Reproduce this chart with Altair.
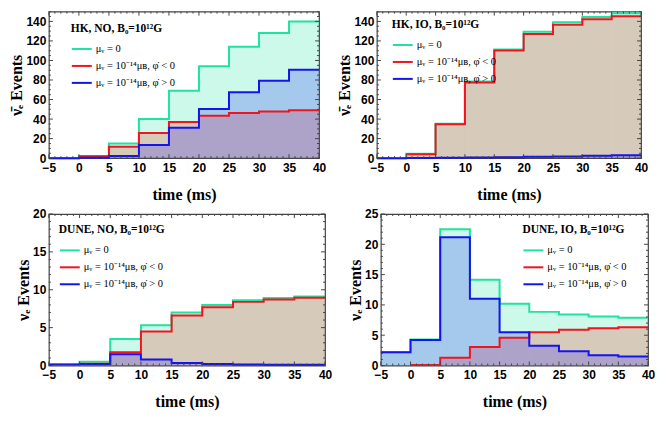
import altair as alt
import pandas as pd

# ---------------- data ----------------
T_START = [-5, 0, 5, 10, 15, 20, 25, 30, 35]
T_END = 40
X_MAJOR = [-5, 0, 5, 10, 15, 20, 25, 30, 35, 40]
X_MINOR = [v for v in range(-5, 41) if v % 5 != 0]

LABELS = ["μᵥ = 0", "μᵥ = 10⁻¹⁴μʙ, φ̇ < 0", "μᵥ = 10⁻¹⁴μʙ, φ̇ > 0"]
LINE_COLORS = ["#20e3a0", "#f0141e", "#1414f0"]
FILL_COLORS = ["#00e191", "#ff0e03", "#0909ff"]

HK_NO_ZERO = [0, 1.9, 15, 40, 69, 94, 114, 128, 140]
HK_NO_NEG = [None, 1.9, 11.6, 25.7, 37, 43.5, 46.3, 47.8, 49]
HK_NO_POS = [0, 0.5, 2.1, 13.5, 31.2, 50.2, 67.4, 79.3, 90.4]

HK_IO_ZERO = [0, 4.6, 35.2, 78.4, 111.2, 129.3, 139, 144.6, 148.3]
HK_IO_NEG = [None, 4.0, 34.6, 77.5, 110.3, 127.1, 136.6, 142.2, 145.2]
HK_IO_POS = [0, 0.1, 0.3, 0.6, 0.9, 1.5, 1.8, 2.5, 3.1]

DUNE_NO_ZERO = [0.12, 0.5, 3.5, 5.3, 7.0, 8.0, 8.6, 8.9, 9.1]
DUNE_NO_NEG = [None, 0.24, 1.75, 4.5, 6.6, 7.7, 8.4, 8.7, 8.96]
DUNE_NO_POS = [0.12, 0.2, 1.5, 0.8, 0.32, 0.2, 0.14, 0.1, 0.1]

DUNE_IO_ZERO = [2.2, 4.3, 22.5, 14.15, 10.2, 8.85, 8.4, 8.1, 7.9]
DUNE_IO_NEG = [None, 0.1, 1.3, 3.05, 4.6, 5.5, 5.9, 6.15, 6.3]
DUNE_IO_POS = [2.2, 4.2, 21.15, 11.0, 5.5, 3.25, 2.35, 1.7, 1.5]

HK_Y_MAJOR = [0, 20, 40, 60, 80, 100, 120, 140]
HK_Y_MINOR = [v for v in range(0, 151, 5) if v % 20 != 0]
DUNE_NO_Y_MAJOR = [0, 5, 10, 15, 20]
DUNE_NO_Y_MINOR = [v for v in range(0, 21) if v % 5 != 0]
DUNE_IO_Y_MAJOR = [0, 5, 10, 15, 20, 25]
DUNE_IO_Y_MINOR = [v for v in range(0, 26) if v % 5 != 0]

FRAME = "#444444"
MAJOR_LEN = 4
MINOR_LEN = 2


def panel(series, ltitle, ytitle, ymax, ymajor, yminor, width, height, lx, ly):
    xs = alt.Scale(domain=[-5, 40], nice=False, zero=False)
    ys = alt.Scale(domain=[0, ymax], nice=False, zero=False)
    xax = alt.Axis(values=X_MAJOR, title="time (ms)")
    yax = alt.Axis(values=ymajor, title=ytitle)
    color_scale = alt.Scale(domain=LABELS, range=LINE_COLORS)
    leg = alt.Legend(
        title=ltitle, orient="none", legendX=lx, legendY=ly,
        symbolType="stroke", symbolSize=400, symbolStrokeWidth=2,
        labelFont="Liberation Serif", labelFontSize=10.5,
        labelColor="black", labelOffset=3, labelLimit=400,
        titleFont="Liberation Serif", titleFontWeight="bold", titleFontSize=11.5,
        titleColor="black", titlePadding=4, titleLimit=400,
        rowPadding=0, padding=0,
    )

    rect_layers, line_layers = [], []
    for k, vals in enumerate(series):
        rrows, lrows = [], []
        for i, v in enumerate(vals):
            if v is None:
                continue
            t0 = T_START[i]
            t1 = T_START[i + 1] if i + 1 < len(T_START) else T_END
            rrows.append({"s": LABELS[k], "t": t0, "t2": t1, "v": v})
            lrows.append({"s": LABELS[k], "t": t0, "v": v})
        lrows.append({"s": LABELS[k], "t": T_END, "v": vals[-1]})
        rdf = pd.DataFrame(rrows)
        ldf = pd.DataFrame(lrows)
        rect_layers.append(
            alt.Chart(rdf).mark_rect(fill=FILL_COLORS[k], fillOpacity=0.2, strokeWidth=0).encode(
                x=alt.X("t:Q", scale=xs, axis=xax),
                x2="t2:Q",
                y=alt.Y("v:Q", scale=ys, axis=yax),
                y2=alt.datum(0),
            )
        )
        line_layers.append(
            alt.Chart(ldf).mark_line(interpolate="step-after", strokeWidth=2).encode(
                x=alt.X("t:Q", scale=xs, axis=xax),
                y=alt.Y("v:Q", scale=ys, axis=yax),
                color=alt.Color("s:N", scale=color_scale, legend=leg),
            )
        )

    tick_layers = []
    for vals, ln in [(ymajor, MAJOR_LEN), (yminor, MINOR_LEN)]:
        df = pd.DataFrame({"v": vals})
        for a, b in [(0, ln), (width - ln, width)]:
            tick_layers.append(
                alt.Chart(df).mark_rule(color=FRAME, strokeWidth=1).encode(
                    y=alt.Y("v:Q", scale=ys, axis=yax), x=alt.value(a), x2=alt.value(b)
                )
            )
    for vals, ln in [(X_MAJOR, MAJOR_LEN), (X_MINOR, MINOR_LEN)]:
        df = pd.DataFrame({"v": vals})
        for a, b in [(0, ln), (height - ln, height)]:
            tick_layers.append(
                alt.Chart(df).mark_rule(color=FRAME, strokeWidth=1).encode(
                    x=alt.X("v:Q", scale=xs, axis=xax), y=alt.value(a), y2=alt.value(b)
                )
            )

    return alt.layer(*rect_layers, *line_layers, *tick_layers).properties(width=width, height=height)


HK_TITLE_BAR = "ν\u0304\u2091 Events"
DUNE_TITLE = "ν\u2091 Events"

p1 = panel([HK_NO_ZERO, HK_NO_NEG, HK_NO_POS], "HK, NO, B₀=10¹²G", HK_TITLE_BAR,
           150, HK_Y_MAJOR, HK_Y_MINOR, 271, 147, 22, 11)
p2 = panel([HK_IO_ZERO, HK_IO_NEG, HK_IO_POS], "HK, IO, B₀=10¹²G", HK_TITLE_BAR,
           150, HK_Y_MAJOR, HK_Y_MINOR, 265, 147, 15, 7)
p3 = panel([DUNE_NO_ZERO, DUNE_NO_NEG, DUNE_NO_POS], "DUNE, NO, B₀=10¹²G", DUNE_TITLE,
           20, DUNE_NO_Y_MAJOR, DUNE_NO_Y_MINOR, 277, 152, 10, 10)
p4 = panel([DUNE_IO_ZERO, DUNE_IO_NEG, DUNE_IO_POS], "DUNE, IO, B₀=10¹²G", DUNE_TITLE,
           25, DUNE_IO_Y_MAJOR, DUNE_IO_Y_MINOR, 268, 152, 142, 10)

row1 = (alt.hconcat(p1, p2, spacing=58, bounds="flush")
        .resolve_scale(color="independent").resolve_legend(color="independent"))
row2 = (alt.hconcat(p3, p4, spacing=56, bounds="flush")
        .resolve_scale(color="independent").resolve_legend(color="independent"))

chart = (
    alt.vconcat(row1, row2, spacing=4)
    .resolve_scale(color="independent")
    .resolve_legend(color="independent")
    .properties(padding={"left": 0, "top": 0, "right": 0, "bottom": 0}, background="white")
    .configure_view(stroke=FRAME, strokeWidth=1.2)
    .configure_axis(
        labelFont="Liberation Sans", labelFontSize=12, labelFontWeight="bold", labelColor="black",
        titleFont="Liberation Serif", titleFontSize=16, titleFontWeight="bold", titleColor="black",
        ticks=False, domain=False, grid=False, labelFlush=False,
    )
    .configure_axisX(labelPadding=4, titlePadding=13)
    .configure_axisY(labelPadding=3, titlePadding=1)
)

chart.save("out.html", embed_options={"renderer": "svg", "actions": False})
